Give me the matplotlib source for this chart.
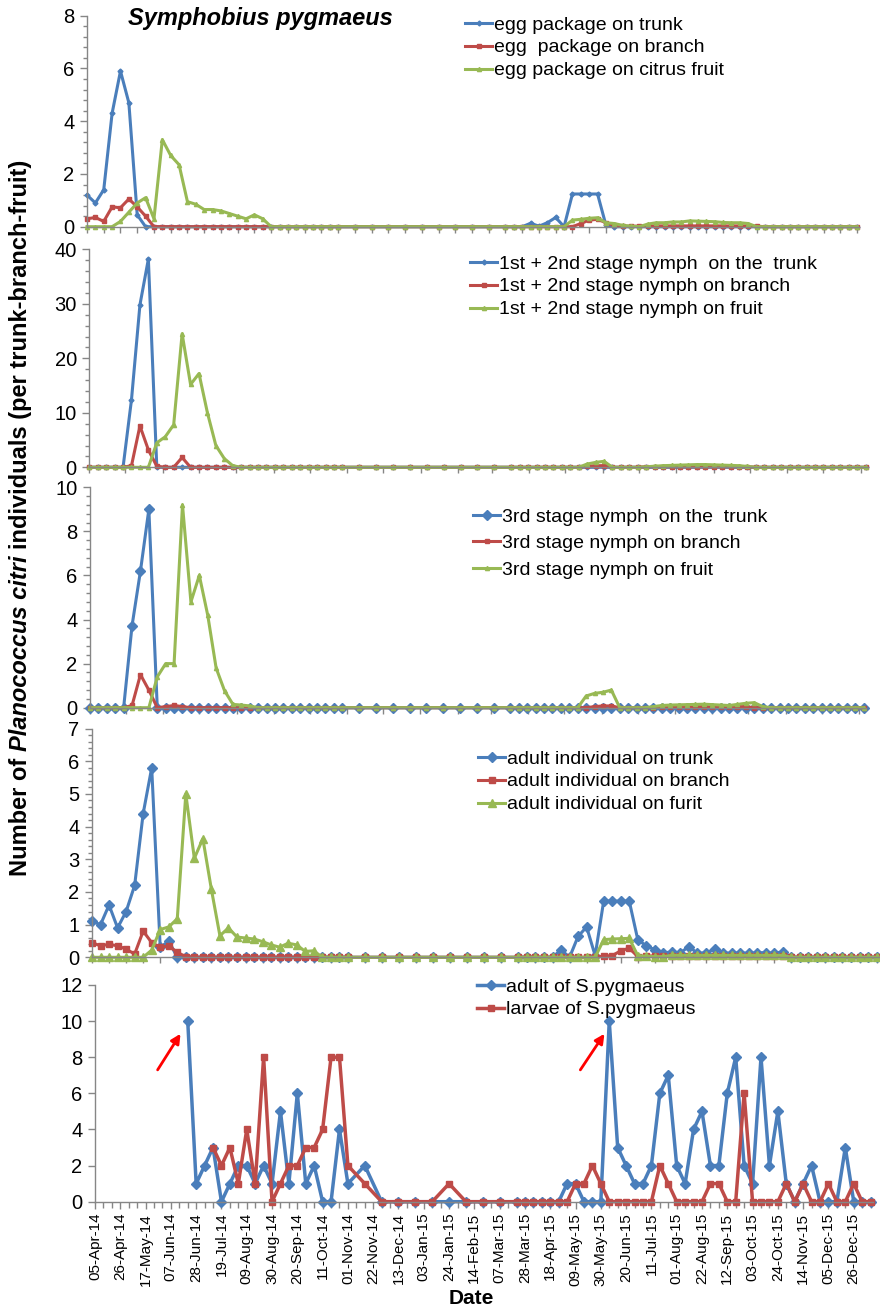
import numpy as np
import matplotlib
matplotlib.use("Agg")
import matplotlib.pyplot as plt
import matplotlib.dates as mdates
from matplotlib.ticker import MultipleLocator, FixedLocator, NullFormatter

plt.rcParams['font.family'] = ['Liberation Sans', 'DejaVu Sans']

# sampling dates (weekly, fortnightly over winter)
sample_dates = [
    "2014-04-05", "2014-04-12", "2014-04-19", "2014-04-26", "2014-05-03", "2014-05-10",
    "2014-05-17", "2014-05-24", "2014-05-31", "2014-06-07", "2014-06-14", "2014-06-21",
    "2014-06-28", "2014-07-05", "2014-07-12", "2014-07-19", "2014-07-26", "2014-08-02",
    "2014-08-09", "2014-08-16", "2014-08-23", "2014-08-30", "2014-09-06", "2014-09-13",
    "2014-09-20", "2014-09-27", "2014-10-04", "2014-10-11", "2014-10-18", "2014-10-25",
    "2014-11-01", "2014-11-15", "2014-11-29", "2014-12-13", "2014-12-27", "2015-01-10",
    "2015-01-24", "2015-02-07", "2015-02-21", "2015-03-07", "2015-03-21", "2015-03-28",
    "2015-04-04", "2015-04-11", "2015-04-18", "2015-04-25", "2015-05-02", "2015-05-09",
    "2015-05-16", "2015-05-23", "2015-05-30", "2015-06-06", "2015-06-13", "2015-06-20",
    "2015-06-27", "2015-07-04", "2015-07-11", "2015-07-18", "2015-07-25", "2015-08-01",
    "2015-08-08", "2015-08-15", "2015-08-22", "2015-08-29", "2015-09-05", "2015-09-12",
    "2015-09-19", "2015-09-26", "2015-10-03", "2015-10-10", "2015-10-17", "2015-10-24",
    "2015-10-31", "2015-11-07", "2015-11-14", "2015-11-21", "2015-11-28", "2015-12-05",
    "2015-12-12", "2015-12-19", "2015-12-26", "2016-01-02", "2016-01-09",
]

# panel 1: egg packages
egg_trunk = [
    1.2, 0.9, 1.4, 4.3, 5.9, 4.7, 0.45, 0, 0, 0,
    0, 0, 0, 0, 0, 0, 0, 0, 0, 0,
    0, 0, 0, 0, 0, 0, 0, 0, 0, 0,
    0, 0, 0, 0, 0, 0, 0, 0, 0, 0,
    0, 0, 0, 0.13, 0.02, 0.15, 0.35, 0, 1.24, 1.24,
    1.24, 1.24, 0.06, 0, 0, 0, 0, 0, 0, 0,
    0, 0, 0, 0, 0, 0, 0, 0, 0, 0,
    0, 0, 0, 0, 0, 0, 0, 0, 0, 0,
    0, 0, 0,
]
egg_branch = [
    0.3, 0.35, 0.2, 0.75, 0.72, 1.05, 0.75, 0.4, 0, 0,
    0, 0, 0, 0, 0, 0, 0, 0, 0, 0,
    0, 0, 0, 0, 0, 0, 0, 0, 0, 0,
    0, 0, 0, 0, 0, 0, 0, 0, 0, 0,
    0, 0, 0, 0, 0, 0, 0, 0, 0, 0.12,
    0.25, 0.28, 0.15, 0.05, 0.02, 0.02, 0.02, 0.03, 0.03, 0.03,
    0.03, 0.03, 0.03, 0.03, 0.03, 0.03, 0.03, 0.03, 0.03, 0.03,
    0.02, 0, 0, 0, 0, 0, 0, 0, 0, 0,
    0, 0, 0,
]
egg_fruit = [
    0, 0, 0, 0, 0.2, 0.55, 0.9, 1.1, 0.3, 3.3,
    2.7, 2.35, 0.95, 0.85, 0.65, 0.65, 0.6, 0.5, 0.4, 0.3,
    0.45, 0.3, 0, 0, 0, 0, 0, 0, 0, 0,
    0, 0, 0, 0, 0, 0, 0, 0, 0, 0,
    0, 0, 0, 0, 0, 0, 0, 0, 0.25, 0.28,
    0.32, 0.34, 0.15, 0.12, 0.05, 0.02, 0, 0.1, 0.15, 0.15,
    0.18, 0.18, 0.22, 0.21, 0.2, 0.19, 0.16, 0.15, 0.15, 0.12,
    0, 0, 0, 0, 0, 0, 0, 0, 0, 0,
    0, 0, 0,
]

# panel 2: 1st + 2nd stage nymphs
nym12_trunk = [
    0, 0, 0, 0, 0, 12.4, 29.8, 38.2, 0, 0,
    0, 0, 0, 0, 0, 0, 0, 0, 0, 0,
    0, 0, 0, 0, 0, 0, 0, 0, 0, 0,
    0, 0, 0, 0, 0, 0, 0, 0, 0, 0,
    0, 0, 0, 0, 0, 0, 0, 0, 0, 0,
    0, 0, 0, 0, 0, 0, 0, 0, 0, 0,
    0, 0, 0, 0, 0, 0, 0, 0, 0, 0,
    0, 0, 0, 0, 0, 0, 0, 0, 0, 0,
    0, 0, 0,
]
nym12_branch = [
    0, 0, 0, 0, 0, 0.3, 7.6, 3.2, 0.2, 0,
    0, 1.8, 0, 0, 0, 0, 0, 0, 0, 0,
    0, 0, 0, 0, 0, 0, 0, 0, 0, 0,
    0, 0, 0, 0, 0, 0, 0, 0, 0, 0,
    0, 0, 0, 0, 0, 0, 0, 0, 0, 0.2,
    0.3, 0.3, 0, 0, 0, 0, 0.1, 0.1, 0.1, 0.1,
    0.1, 0.1, 0.1, 0.1, 0.1, 0.1, 0.1, 0.1, 0.1, 0,
    0, 0, 0, 0, 0, 0, 0, 0, 0, 0,
    0, 0, 0,
]
nym12_fruit = [
    0, 0, 0, 0, 0, 0, 0, 0, 4.5, 5.6,
    7.8, 24.5, 15.2, 17.2, 10, 4, 1.6, 0.3, 0, 0,
    0, 0, 0, 0, 0, 0, 0, 0, 0, 0,
    0, 0, 0, 0, 0, 0, 0, 0, 0, 0,
    0, 0, 0, 0, 0, 0, 0, 0, 0, 0.6,
    0.9, 1.1, 0, 0, 0, 0, 0.1, 0.2, 0.3, 0.35,
    0.4, 0.45, 0.5, 0.5, 0.45, 0.4, 0.35, 0.3, 0.15, 0,
    0, 0, 0, 0, 0, 0, 0, 0, 0, 0,
    0, 0, 0,
]

# panel 3: 3rd stage nymphs
nym3_trunk = [
    0, 0, 0, 0, 0, 3.72, 6.2, 9.0, 0, 0,
    0, 0, 0, 0, 0, 0, 0, 0, 0, 0,
    0, 0, 0, 0, 0, 0, 0, 0, 0, 0,
    0, 0, 0, 0, 0, 0, 0, 0, 0, 0,
    0, 0, 0, 0, 0, 0, 0, 0, 0, 0,
    0, 0, 0, 0, 0, 0, 0, 0, 0, 0,
    0, 0, 0, 0, 0, 0, 0, 0, 0, 0,
    0, 0, 0, 0, 0, 0, 0, 0, 0, 0,
    0, 0, 0,
]
nym3_branch = [
    0, 0, 0, 0, 0, 0.1, 1.5, 0.8, 0, 0.05,
    0.1, 0.05, 0, 0, 0, 0, 0, 0, 0, 0,
    0, 0, 0, 0, 0, 0, 0, 0, 0, 0,
    0, 0, 0, 0, 0, 0, 0, 0, 0, 0,
    0, 0, 0, 0, 0, 0, 0, 0, 0, 0,
    0.05, 0.08, 0.08, 0, 0, 0, 0, 0, 0.05, 0.05,
    0.05, 0.05, 0.05, 0.05, 0.05, 0.05, 0.05, 0.05, 0.05, 0,
    0, 0, 0, 0, 0, 0, 0, 0, 0, 0,
    0, 0, 0,
]
nym3_fruit = [
    0, 0, 0, 0, 0, 0, 0, 0, 1.4, 2.0,
    2.0, 9.2, 4.8, 6.0, 4.2, 1.8, 0.77, 0.15, 0.12, 0.08,
    0, 0, 0, 0, 0, 0, 0, 0, 0, 0,
    0, 0, 0, 0, 0, 0, 0, 0, 0, 0,
    0, 0, 0, 0, 0, 0, 0, 0, 0, 0.53,
    0.65, 0.7, 0.8, 0, 0, 0, 0, 0.05, 0.1, 0.12,
    0.13, 0.14, 0.15, 0.16, 0.14, 0.12, 0.1, 0.15, 0.2, 0.23,
    0.05, 0, 0, 0, 0, 0, 0, 0, 0, 0,
    0, 0, 0,
]

# panel 4: adults
adult_trunk = [
    1.1, 1.0, 1.6, 0.9, 1.4, 2.2, 4.4, 5.8, 0.3, 0.5,
    0, 0, 0, 0, 0, 0, 0, 0, 0, 0,
    0, 0, 0, 0, 0, 0, 0, 0, 0, 0,
    0, 0, 0, 0, 0, 0, 0, 0, 0, 0,
    0, 0, 0, 0, 0, 0.23, 0, 0.64, 0.93, 0.05,
    1.72, 1.72, 1.72, 1.72, 0.54, 0.35, 0.23, 0.14, 0.16, 0.14,
    0.33, 0.12, 0.14, 0.25, 0.14, 0.12, 0.14, 0.12, 0.14, 0.14,
    0.12, 0.17, 0, 0, 0, 0, 0, 0, 0, 0,
    0, 0, 0,
]
adult_branch = [
    0.45, 0.35, 0.4, 0.35, 0.25, 0.1, 0.8, 0.45, 0.3, 0.35,
    0.15, 0.02, 0, 0, 0, 0, 0, 0, 0, 0,
    0, 0, 0, 0, 0, 0, 0, 0, 0, 0,
    0, 0, 0, 0, 0, 0, 0, 0, 0, 0,
    0, 0, 0, 0, 0, 0, 0, 0, 0, 0,
    0.04, 0.05, 0.2, 0.28, 0.02, 0.04, 0.04, 0.04, 0.04, 0.04,
    0.04, 0.04, 0.04, 0.04, 0.04, 0.04, 0.04, 0.04, 0.04, 0.04,
    0.04, 0.04, 0, 0, 0, 0, 0, 0, 0, 0,
    0, 0, 0,
]
adult_fruit = [
    0, 0, 0, 0, 0, 0, 0, 0.22, 0.85, 0.93,
    1.18, 5.0, 3.03, 3.63, 2.08, 0.66, 0.9, 0.62, 0.59, 0.56,
    0.48, 0.38, 0.31, 0.43, 0.38, 0.18, 0.2, 0, 0, 0,
    0, 0, 0, 0, 0, 0, 0, 0, 0, 0,
    0, 0, 0, 0, 0, 0, 0, 0, 0, 0,
    0.54, 0.56, 0.57, 0.58, 0.05, 0.03, 0.02, 0.02, 0.06, 0.06,
    0.06, 0.06, 0.06, 0.06, 0.06, 0.06, 0.06, 0.06, 0.06, 0.06,
    0.06, 0.06, 0, 0, 0, 0, 0, 0, 0, 0,
    0, 0, 0,
]

# panel 5: the predator Symphobius pygmaeus
nan = np.nan
sp_adult = [
    nan, nan, nan, nan, nan, nan, nan, nan, nan, nan,
    nan, 10, 1, 2, 3, 0, 1, 2, 2, 1,
    2, 1, 5, 1, 6, 1, 2, 0, 0, 4,
    1, 2, 0, 0, 0, 0, 0, 0, 0, 0,
    0, 0, 0, 0, 0, 0, 1, 1, 0, 0,
    0, 10, 3, 2, 1, 1, 2, 6, 7, 2,
    1, 4, 5, 2, 2, 6, 8, 2, 1, 8,
    2, 5, 1, 0, 1, 2, 0, 0, 0, 3,
    0, 0, 0,
]
sp_larvae = [
    nan, nan, nan, nan, nan, nan, nan, nan, nan, nan,
    nan, nan, nan, nan, 3, 2, 3, 1, 4, 1,
    8, 0, 1, 2, 2, 3, 3, 4, 8, 8,
    2, 1, 0, 0, 0, 0, 1, 0, 0, 0,
    0, 0, 0, 0, 0, 0, 0, 1, 1, 2,
    1, 0, 0, 0, 0, 0, 0, 2, 1, 0,
    0, 0, 0, 1, 1, 0, 0, 6, 0, 0,
    0, 0, 1, 0, 1, 0, 0, 1, 0, 0,
    1, 0, 0,
]

BLUE = "#4A7EBB"
RED = "#BE4B48"
GREEN = "#98B954"
AXIS = "#868686"

W, H = 880, 1309
fig = plt.figure(figsize=(W / 100, H / 100), dpi=100)

x = mdates.datestr2num(sample_dates)
start = x[0]
xmax = start + 646


def make_axes(left, right, top, bottom):
    return fig.add_axes([left / W, 1 - bottom / H, (right - left) / W, (bottom - top) / H])


def style_axes(ax, ymax, ymajor, yminor, xticks):
    ax.set_xlim(start, xmax)
    ax.set_ylim(0, ymax)
    for side in ("top", "right"):
        ax.spines[side].set_visible(False)
    for side in ("left", "bottom"):
        ax.spines[side].set_color(AXIS)
        ax.spines[side].set_linewidth(1.0)
    ax.yaxis.set_major_locator(MultipleLocator(ymajor))
    if yminor:
        ax.yaxis.set_minor_locator(MultipleLocator(yminor))
    ax.xaxis.set_major_locator(xticks)
    ax.xaxis.set_major_formatter(NullFormatter())
    ax.tick_params(axis="y", which="major", direction="out", length=5, width=1,
                   color=AXIS, labelsize=14.5, pad=4)
    ax.tick_params(axis="y", which="minor", direction="out", length=3, width=1, color=AXIS)
    ax.tick_params(axis="x", which="both", direction="out", length=4, width=1, color=AXIS)


def add_legend(ax, left, top, spacing):
    ax.legend(loc="upper left", bbox_to_anchor=(left / W, 1 - top / H),
              bbox_transform=fig.transFigure, frameon=False, fontsize=14,
              handlelength=1.4, handletextpad=0.1, labelspacing=spacing,
              borderpad=0, borderaxespad=0, numpoints=1)


def biweekly():
    return FixedLocator(np.arange(start, xmax + 1, 14))


def monthly():
    return mdates.MonthLocator(bymonthday=5)


lw = 2.2

# panel 1
ax1 = make_axes(87, 859.4, 15.7, 226.7)
ax1.plot(x, egg_trunk, color=BLUE, lw=lw, marker="D", ms=2.5, clip_on=False,
         label="egg package on trunk")
ax1.plot(x, egg_branch, color=RED, lw=lw, marker="s", ms=3.5, clip_on=False,
         label="egg  package on branch")
ax1.plot(x, egg_fruit, color=GREEN, lw=lw, marker="^", ms=3, clip_on=False,
         label="egg package on citrus fruit")
style_axes(ax1, 8, 2, 0.4, biweekly())
add_legend(ax1, 465, 16, 0.27)

# panel 2
ax2 = make_axes(89.3, 868, 249.3, 467.3)
ax2.plot(x, nym12_trunk, color=BLUE, lw=lw, marker="D", ms=2.5, clip_on=False,
         label="1st + 2nd stage nymph  on the  trunk")
ax2.plot(x, nym12_branch, color=RED, lw=lw, marker="s", ms=3.5, clip_on=False,
         label="1st + 2nd stage nymph on branch")
ax2.plot(x, nym12_fruit, color=GREEN, lw=lw, marker="^", ms=3, clip_on=False,
         label="1st + 2nd stage nymph on fruit")
style_axes(ax2, 40, 10, 2, monthly())
add_legend(ax2, 470, 255, 0.27)

# panel 3
ax3 = make_axes(90, 866, 487.3, 707.7)
ax3.plot(x, nym3_trunk, color=BLUE, lw=lw, marker="D", ms=5, clip_on=False,
         label="3rd stage nymph  on the  trunk")
ax3.plot(x, nym3_branch, color=RED, lw=lw, marker="s", ms=3.5, clip_on=False,
         label="3rd stage nymph on branch")
ax3.plot(x, nym3_fruit, color=GREEN, lw=lw, marker="^", ms=3, clip_on=False,
         label="3rd stage nymph on fruit")
style_axes(ax3, 10, 2, 0.4, monthly())
add_legend(ax3, 473, 508, 0.46)

# panel 4
ax4 = make_axes(92, 879, 728.6, 957.3)
ax4.plot(x, adult_trunk, color=BLUE, lw=lw, marker="D", ms=5, clip_on=False,
         label="adult individual on trunk")
ax4.plot(x, adult_branch, color=RED, lw=lw, marker="s", ms=4, clip_on=False,
         label="adult individual on branch")
ax4.plot(x, adult_fruit, color=GREEN, lw=lw, marker="^", ms=6, clip_on=False,
         label="adult individual on furit")
style_axes(ax4, 7, 1, 0.2, biweekly())
add_legend(ax4, 478, 750, 0.27)

# panel 5
ax5 = make_axes(95, 873, 985, 1201.7)
ax5.plot(x, sp_adult, color=BLUE, lw=2.5, marker="D", ms=5, clip_on=False,
         label="adult of S.pygmaeus")
ax5.plot(x, sp_larvae, color=RED, lw=2.5, marker="s", ms=4, clip_on=False,
         label="larvae of S.pygmaeus")
style_axes(ax5, 12, 2, None, FixedLocator(np.arange(start, xmax + 1, 21)))
ax5.xaxis.set_minor_locator(FixedLocator(np.arange(start, xmax + 1, 7)))
ax5.xaxis.set_major_formatter(mdates.DateFormatter("%d-%b-%y"))
ax5.tick_params(axis="x", which="major", length=5, labelsize=11, labelrotation=90, pad=3)
ax5.tick_params(axis="x", which="minor", length=4)
add_legend(ax5, 477, 978, 0.27)

# red arrows pointing at the two predator peaks
for tail_day, tip_day in ((52, 71), (403, 423)):
    ax5.annotate("", xy=(start + tip_day, 9.3), xytext=(start + tail_day, 7.3),
                 arrowprops=dict(arrowstyle="-|>", color="red", lw=2,
                                 mutation_scale=14, shrinkA=0, shrinkB=0))

fig.text(260 / W, 1 - 18 / H, "Symphobius pygmaeus", ha="center", va="center",
         fontsize=17, fontweight="bold", fontstyle="italic")
fig.text(471 / W, 1 - 1298 / H, "Date", ha="center", va="center",
         fontsize=15, fontweight="bold")

# y label with an italic species name, built from three pieces
renderer = fig.canvas.get_renderer()
label_size = 17
parts = [("Number of", "normal"), ("Planococcus citri", "italic"),
         ("individuals (per trunk-branch-fruit)", "normal")]
space = 0.278 * label_size * 100 / 72
texts = []
for s, st in parts:
    t = fig.text(0, 0, s, rotation=90, rotation_mode="anchor", ha="left",
                 va="baseline", fontsize=label_size, fontweight="bold", fontstyle=st)
    texts.append(t)
lengths = [t.get_window_extent(renderer).height for t in texts]
total = sum(lengths) + space * (len(parts) - 1)
y_px = (H - 160) - total
for t, ln in zip(texts, lengths):
    t.set_position((27 / W, y_px / H))
    y_px += ln + space

fig.savefig("out.png", dpi=100)
